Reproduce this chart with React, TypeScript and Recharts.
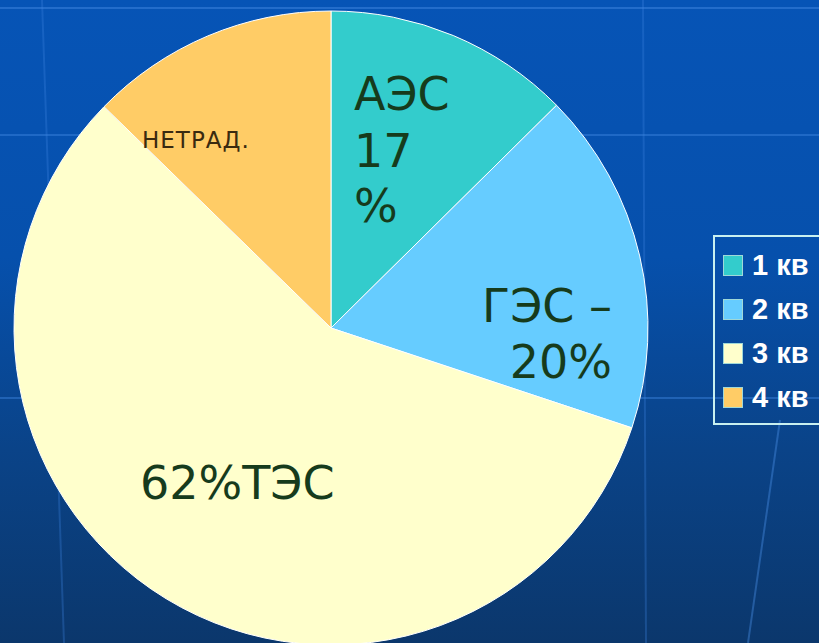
import { PieChart, Pie, Cell, Legend } from 'recharts';

// quarters / sources
const categories = ['1 кв', '2 кв', '3 кв', '4 кв'];
const values = [12.6, 17.5, 57.2, 12.7];
const colors = ['#33cccc', '#66ccff', '#ffffcc', '#ffcc66'];

const data = categories.map((name, i) => ({ name, value: values[i], color: colors[i] }));

const textColor = '#163b1c';
const labelFont = '"DejaVu Sans", Verdana, sans-serif';

function LegendBox() {
  // the box runs off the right edge of the slide, so no right border
  return (
    <div style={{ border: '2px solid #c8f0f0', borderRight: 'none', padding: '8px 0 4px 8px', width: 140, boxSizing: 'border-box', height: 190 }}>
      {data.map(d => (
        <div key={d.name} style={{ display: 'flex', alignItems: 'center', height: 48, marginTop: -4, whiteSpace: 'nowrap' }}>
          <span style={{ display: 'inline-block', width: 18, height: 19, background: d.color, border: '1px solid #9fd8d8', marginRight: 9 }} />
          <span style={{ color: '#ffffff', fontFamily: '"Liberation Sans", Arial, sans-serif', fontWeight: 'bold', fontSize: 29 }}>{d.name}</span>
        </div>
      ))}
    </div>
  );
}

export default function App() {
  return (
    <div style={{ position: 'absolute', left: 0, top: 0, width: 819, height: 643, overflow: 'hidden',
      background: 'linear-gradient(180deg, #0654b6 0%, #0650ac 40%, #0a4388 70%, #0b376c 100%)' }}>
      {/* faint template grid */}
      <svg width={819} height={643} style={{ position: 'absolute', left: 0, top: 0 }}>
        <line x1={0} y1={8} x2={819} y2={8} stroke="#3f86e0" strokeOpacity={0.5} strokeWidth={2} />
        <line x1={0} y1={135} x2={819} y2={135} stroke="#3f86e0" strokeOpacity={0.45} strokeWidth={2} />
        <line x1={0} y1={398} x2={819} y2={398} stroke="#3f86e0" strokeOpacity={0.45} strokeWidth={2} />
        <line x1={42} y1={0} x2={64} y2={643} stroke="#3f86e0" strokeOpacity={0.3} strokeWidth={2} />
        <line x1={643} y1={0} x2={646} y2={643} stroke="#3f86e0" strokeOpacity={0.3} strokeWidth={2} />
        <line x1={780} y1={420} x2={748} y2={643} stroke="#4a90e8" strokeOpacity={0.4} strokeWidth={2} />
      </svg>
      <PieChart width={819} height={643} margin={{ top: 0, right: 0, bottom: 0, left: 0 }}
        style={{ position: 'absolute', left: 0, top: 0 }}>
        <Pie
          data={data}
          dataKey="value"
          nameKey="name"
          cx={331}
          cy={328}
          outerRadius={317}
          startAngle={90}
          endAngle={-270}
          stroke="#ffffff"
          strokeWidth={1}
          isAnimationActive={false}
        >
          {data.map((entry, index) => (
            <Cell key={`cell-${index}`} fill={entry.color} />
          ))}
        </Pie>
        <Legend
          layout="vertical"
          verticalAlign="top"
          align="right"
          wrapperStyle={{ left: 713, top: 235, width: 140 }}
          content={() => <LegendBox />}
        />
      </PieChart>
      {/* slice labels */}
      <svg width={819} height={643} style={{ position: 'absolute', left: 0, top: 0, pointerEvents: 'none' }}>
        <g fill={textColor} fontFamily={labelFont} fontSize={46}>
          <text x={354} y={110}>АЭС</text>
          <text x={354} y={167}>17</text>
          <text x={354} y={222}>%</text>
          <text x={612} y={322} textAnchor="end">ГЭС –</text>
          <text x={612} y={378} textAnchor="end">20%</text>
          <text x={140} y={499}>62%ТЭС</text>
        </g>
        <text x={142} y={148} fill="#3a2a10" fontFamily={labelFont} fontSize={23} letterSpacing={1}>НЕТРАД.</text>
      </svg>
    </div>
  );
}
